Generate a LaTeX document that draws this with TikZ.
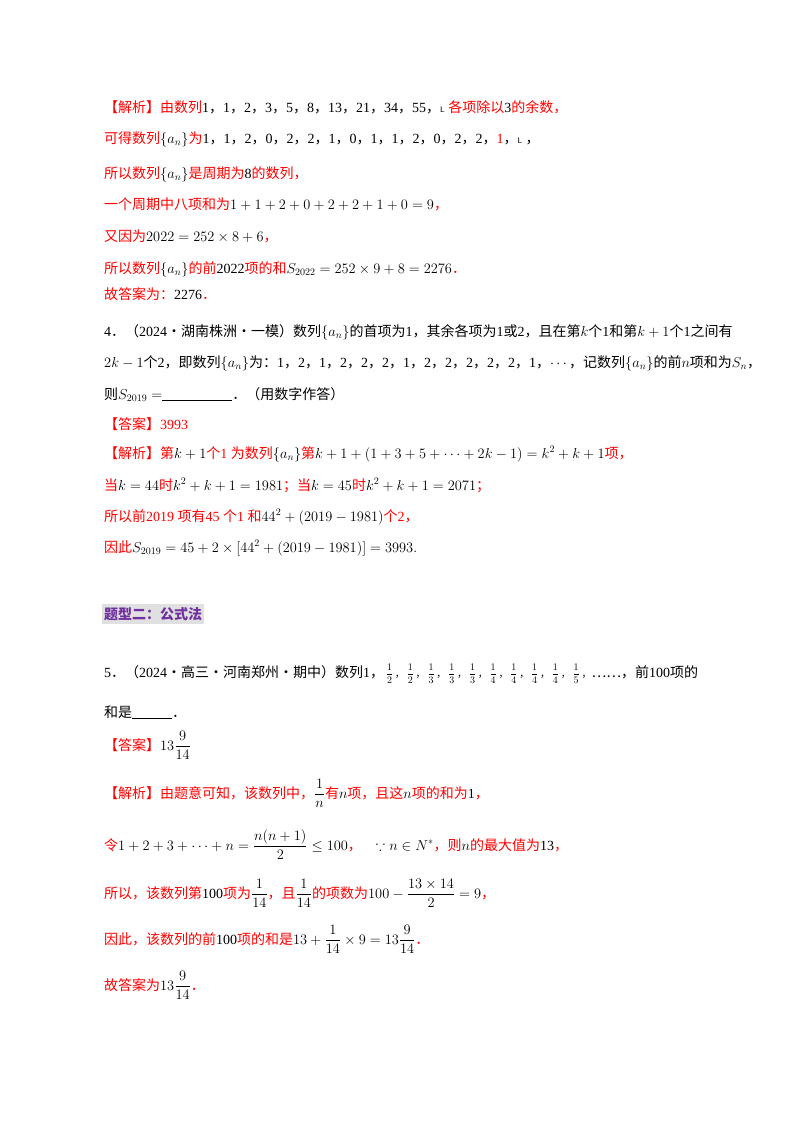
\documentclass[tikz,border=0pt]{standalone}
\usepackage{amsmath,amssymb}
\usepackage{fontspec}
\setmainfont{Liberation Serif}
\newfontfamily\cjk{Noto Sans CJK SC}
\definecolor{myred}{RGB}{255,0,0}
\definecolor{hdpurple}{RGB}{112,48,160}
\newcommand\R[1]{{\cjk\color{myred}#1}}
\newcommand\Z[1]{{\cjk #1}}
\newcommand\cm{\Z{，}}
\newcommand\LL{{\sffamily\footnotesize L}}
\newcommand\fr[2]{\,$\displaystyle\frac{#1}{#2}$\,}
\tikzset{ln/.style={anchor=base west,inner sep=0pt,font=\fontsize{14}{17}\selectfont}}
\begin{document}
\begin{tikzpicture}[x=1pt,y=1pt]
\useasboundingbox (0,0) rectangle (800,-1132);
\node[ln] (l1) at (104,-112) {\R{【解析】由数列}1\cm 1\cm 2\cm 3\cm 5\cm 8\cm 13\cm 21\cm 34\cm 55\cm \LL\ \R{各项除以}3\R{的余数，}};
\node[ln] (l2) at (104,-143) {\R{可得数列}$\{a_n\}$\R{为}1\cm 1\cm 2\cm 0\cm 2\cm 2\cm 1\cm 0\cm 1\cm 1\cm 2\cm 0\cm 2\cm 2\cm {\color{myred}1}\cm \LL\ \cm};
\node[ln] (l3) at (104,-178) {\R{所以数列}$\{a_n\}$\R{是周期为}8\R{的数列，}};
\node[ln] (l4) at (104,-209) {\R{一个周期中八项和为}$1+1+2+0+2+2+1+0=9$\R{，}};
\node[ln] (l5) at (104,-241) {\R{又因为}$2022=252\times8+6$\R{，}};
\node[ln] (l6) at (104,-273) {\R{所以数列}$\{a_n\}$\R{的前}2022\R{项的和}$S_{2022}=252\times9+8=2276$\R{．}};
\node[ln] (l7) at (104,-299) {\R{故答案为：}2276\R{．}};
\node[ln] (l8) at (104,-336) {4\Z{．（}2024\Z{·湖南株洲·一模）数列}$\{a_n\}$\Z{的首项为}1\Z{，其余各项为}1\Z{或}2\Z{，且在第}$k$\Z{个}1\Z{和第}$k+1$\Z{个}1\Z{之间有}};
\node[ln] (l9) at (104,-367) {$2k-1$\Z{个}2\Z{，即数列}$\{a_n\}$\Z{为：}1\cm 2\cm 1\cm 2\cm 2\cm 2\cm 1\cm 2\cm 2\cm 2\cm 2\cm 2\cm 1\cm $\cdots$\Z{，记数列}$\{a_n\}$\Z{的前}$n$\Z{项和为}$S_n$\Z{，}};
\node[ln] (l10) at (104,-399) {\Z{则}$S_{2019}=$\rule[-2pt]{70pt}{1pt}\Z{．（用数字作答）}};
\node[ln] (l11) at (104,-429) {\R{【答案】}{\color{myred}3993}};
\node[ln] (l12) at (104,-458) {\R{【解析】第}$k+1$\R{个}{\color{myred} 1 }\R{为数列}$\{a_n\}$\R{第}$k+1+(1+3+5+\cdots+2k-1)=k^2+k+1$\R{项，}};
\node[ln] (l13) at (104,-490) {\R{当}$k=44$\R{时}$k^2+k+1=1981$\R{；当}$k=45$\R{时}$k^2+k+1=2071$\R{；}};
\node[ln] (l14) at (104,-521) {\R{所以前}{\color{myred} 2019 }\R{项有}{\color{myred} 45 }\R{个}{\color{myred} 1 }\R{和}$44^2+(2019-1981)$\R{个}{\color{myred} 2}\R{，}};
\node[ln] (l15) at (104,-552) {\R{因此}$S_{2019}=45+2\times[44^2+(2019-1981)]=3993.$};
\node[anchor=west,fill=black!12,inner xsep=2pt,inner ysep=3pt,font=\cjk\bfseries\fontsize{14}{16}\selectfont,text=hdpurple] (hd) at (102,-614) {题型二：公式法};
\node[ln] (l16) at (104,-677) {5\Z{．（}2024\Z{·高三·河南郑州·期中）数列}1\cm{\fontsize{10}{12}\selectfont\fr12\cm\fr12\cm\fr13\cm\fr13\cm\fr13\cm\fr14\cm\fr14\cm\fr14\cm\fr14\cm\fr15\cm}\Z{……，前}100\Z{项的}};
\node[ln] (l17) at (104,-717) {\Z{和是}\rule[-2pt]{40pt}{1pt}\Z{．}};
\node[ln] (l18) at (104,-750) {\R{【答案】}$13\dfrac{9}{14}$};
\node[ln] (l19) at (104,-798) {\R{【解析】由题意可知，该数列中，}$\dfrac1n$\R{有}$n$\R{项，且这}$n$\R{项的和为}1\R{，}};
\node[ln] (l20) at (104,-850) {\R{令}$1+2+3+\cdots+n=\dfrac{n(n+1)}{2}\le100$\R{，}\quad$\because n\in N^*$\R{，则}$n$\R{的最大值为}13\R{，}};
\node[ln] (l21) at (104,-898) {\R{所以，该数列第}100\R{项为}$\dfrac1{14}$\R{，且}$\dfrac1{14}$\R{的项数为}$100-\dfrac{13\times14}{2}=9$\R{，}};
\node[ln] (l22) at (104,-944) {\R{因此，该数列的前}100\R{项的和是}$13+\dfrac1{14}\times9=13\dfrac9{14}$\R{．}};
\node[ln] (l23) at (104,-990) {\R{故答案为}$13\dfrac9{14}$\R{．}};
\end{tikzpicture}
\end{document}
